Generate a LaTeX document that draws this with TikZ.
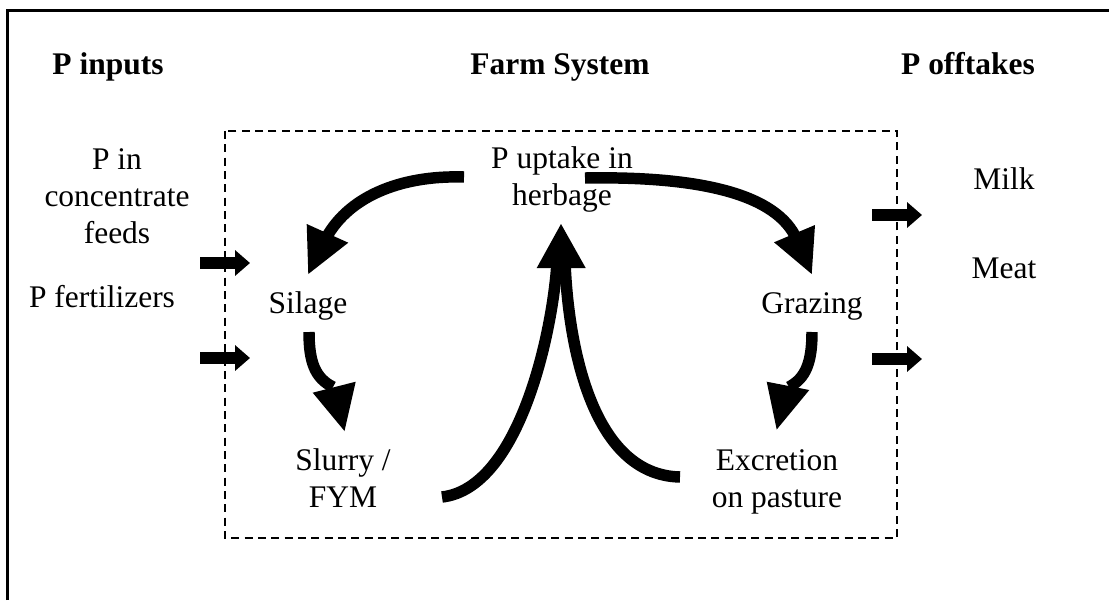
\documentclass[tikz,border=0pt]{standalone}
\usepackage{fontspec}
\setmainfont{Liberation Serif}
\usetikzlibrary{arrows.meta}
\begin{document}
\begin{tikzpicture}[x=0.75pt,y=-0.75pt,
  lbl/.style={anchor=base, align=center, inner sep=0pt, font=\fontsize{23.6}{27.4}\selectfont},
  hdr/.style={lbl, font=\fontsize{23.6}{27.4}\selectfont\bfseries},
  shaft/.style={line width=8.6pt, line cap=butt},
  headfill/.style={fill=black},
  block/.style={line width=9.5pt, -{Triangle[length=11.25pt,width=18.75pt]}},
  frame/.style={line width=1.8pt},
  sysbox/.style={line width=1.5pt, dash pattern=on 6pt off 4pt}]
\useasboundingbox (0,0) rectangle (1109,600);
% outer frame and system boundary
\draw[frame] (7.5,600) -- (7.5,10.5) -- (1109,10.5);
\draw[sysbox] (225,131) rectangle (897,538);
% texts (base anchor = baseline of last line)
\node[hdr] (pin) at (108,74) {P inputs};
\node[hdr] (farm) at (560,74) {Farm System};
\node[hdr] (pout) at (968,74) {P offtakes};
\node[lbl] (conc) at (117,243) {P in\\concentrate\\feeds};
\node[lbl] (fert) at (102,307) {P fertilizers};
\node[lbl] (milk) at (1004,189) {Milk};
\node[lbl] (meat) at (1004,278) {Meat};
\node[lbl] (herb) at (562,205) {P uptake in\\herbage};
\node[lbl] (sil) at (308,313) {Silage};
\node[lbl] (graz) at (812,313) {Grazing};
\node[lbl] (slur) at (343,507) {Slurry /\\FYM};
\node[lbl] (excr) at (777,507) {Excretion\\on pasture};
% block arrows in / out
\coordinate (i1s) at (200,263); \coordinate (i1e) at (250,263);
\coordinate (i2s) at (200,358); \coordinate (i2e) at (250,358);
\coordinate (o1s) at (872,215); \coordinate (o1e) at (922,215);
\coordinate (o2s) at (872,359); \coordinate (o2e) at (922,359);
\draw[block] (i1s) -- (i1e);
\draw[block] (i2s) -- (i2e);
\draw[block] (o1s) -- (o1e);
\draw[block] (o2s) -- (o2e);
% herbage -> silage
\coordinate (hs1) at (464,177); \coordinate (hs2) at (324,242);
\draw[shaft] (hs1) .. controls (400,175) and (346,197) .. (hs2);
\fill[headfill] (306.7,224) -- (348.3,242.7) -- (308.3,274) -- cycle;
% herbage -> grazing
\coordinate (hg1) at (585,178); \coordinate (hg2) at (797,240);
\draw[shaft] (hg1) .. controls (700,176) and (777.5,194) .. (hg2);
\fill[headfill] (815,225) -- (774,242.3) -- (811.7,274) -- cycle;
% silage -> slurry
\coordinate (ss1) at (309,332); \coordinate (ss2) at (333,387);
\draw[shaft] (ss1) .. controls (309,362) and (315,378) .. (ss2);
\fill[headfill] (312.7,392.7) -- (355.7,381.7) -- (344.5,431) -- cycle;
% grazing -> excretion
\coordinate (ge1) at (812,332); \coordinate (ge2) at (789,387);
\draw[shaft] (ge1) .. controls (812,362) and (806,378) .. (ge2);
\fill[headfill] (766.7,381.7) -- (809.3,390) -- (776.7,429.5) -- cycle;
% slurry -> herbage, excretion -> herbage
\coordinate (sh1) at (442,497); \coordinate (sh2) at (557,262);
\coordinate (eh1) at (680,477); \coordinate (eh2) at (565,262);
\draw[shaft] (sh1) .. controls (520,488) and (553,330) .. (sh2);
\draw[shaft] (eh1) .. controls (590,475) and (568,340) .. (eh2);
\fill[headfill] (536.7,268) -- (585.7,268) -- (561,224) -- cycle;
\end{tikzpicture}
\end{document}
